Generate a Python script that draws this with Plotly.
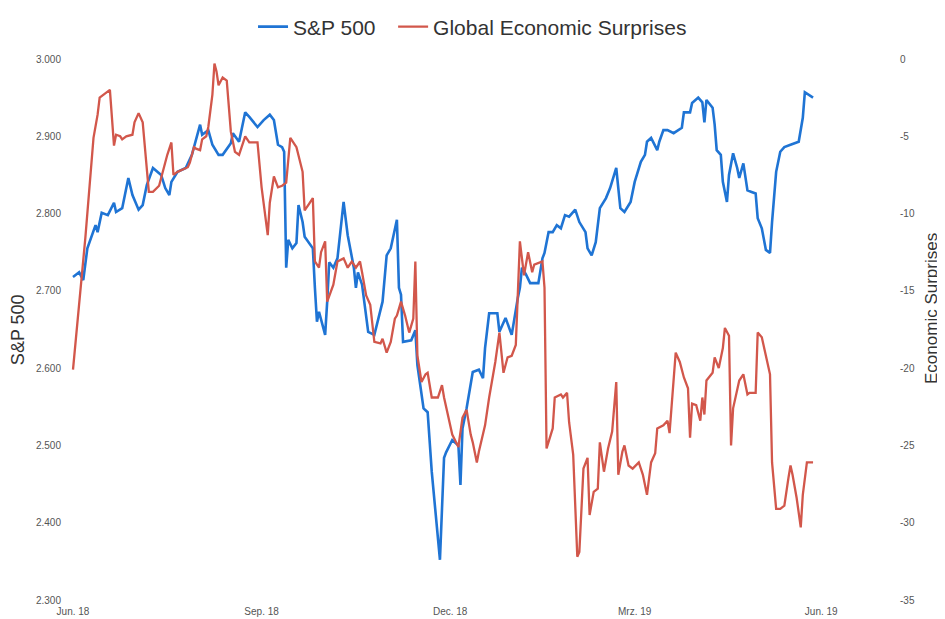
import plotly.graph_objects as go

# ---- S&P 500 (left axis) ----
sp_dates = ["2018-06-28","2018-07-01","2018-07-03","2018-07-05","2018-07-09","2018-07-10","2018-07-12","2018-07-15",
"2018-07-18","2018-07-19","2018-07-22","2018-07-25","2018-07-27","2018-07-30","2018-08-01","2018-08-03","2018-08-06",
"2018-08-10","2018-08-12","2018-08-14","2018-08-15","2018-08-18","2018-08-22","2018-08-25","2018-08-29","2018-08-30",
"2018-09-02","2018-09-04","2018-09-07","2018-09-09","2018-09-13","2018-09-14","2018-09-17","2018-09-20","2018-09-22",
"2018-09-26","2018-09-29","2018-10-02","2018-10-04","2018-10-06","2018-10-08","2018-10-09","2018-10-10","2018-10-11",
"2018-10-13","2018-10-15","2018-10-16","2018-10-18","2018-10-19","2018-10-23","2018-10-24","2018-10-25","2018-10-26",
"2018-10-29","2018-10-30","2018-10-31","2018-11-02","2018-11-04","2018-11-07","2018-11-09","2018-11-12","2018-11-13",
"2018-11-14","2018-11-16","2018-11-19","2018-11-22","2018-11-26","2018-11-28","2018-11-30","2018-12-03","2018-12-04",
"2018-12-05","2018-12-06","2018-12-10","2018-12-12","2018-12-13","2018-12-16","2018-12-18","2018-12-20","2018-12-22",
"2018-12-24","2018-12-26","2018-12-27","2018-12-30","2019-01-02","2019-01-03","2019-01-04","2019-01-06","2019-01-09",
"2019-01-12","2019-01-14","2019-01-15","2019-01-17","2019-01-21","2019-01-22","2019-01-25","2019-01-28","2019-01-31",
"2019-02-01","2019-02-02","2019-02-04","2019-02-06","2019-02-10","2019-02-12","2019-02-13","2019-02-15","2019-02-17",
"2019-02-19","2019-02-21","2019-02-23","2019-02-25","2019-02-28","2019-03-02","2019-03-05","2019-03-06","2019-03-08",
"2019-03-10","2019-03-12","2019-03-15","2019-03-17","2019-03-18","2019-03-20","2019-03-21","2019-03-22","2019-03-24",
"2019-03-27","2019-03-29","2019-04-01","2019-04-03","2019-04-04","2019-04-06","2019-04-09","2019-04-10","2019-04-12",
"2019-04-14","2019-04-17","2019-04-21","2019-04-22","2019-04-25","2019-04-26","2019-04-29","2019-05-01","2019-05-02",
"2019-05-03","2019-05-06","2019-05-07","2019-05-08","2019-05-10","2019-05-11","2019-05-13","2019-05-14","2019-05-16",
"2019-05-18","2019-05-19","2019-05-21","2019-05-23","2019-05-25","2019-05-27","2019-05-28","2019-05-30","2019-06-01",
"2019-06-03","2019-06-04","2019-06-06","2019-06-08","2019-06-10","2019-06-13","2019-06-15","2019-06-17","2019-06-19",
"2019-06-20","2019-06-24"]
sp_values = [2718,2724,2714,2755,2785,2776,2801,2798,
2814,2802,2807,2846,2824,2805,2811,2837,2859,
2850,2833,2824,2841,2854,2859,2876,2915,2902,
2908,2889,2876,2876,2891,2904,2893,2931,2925,
2912,2921,2928,2921,2889,2886,2880,2730,2766,
2755,2762,2811,2789,2770,2755,2704,2660,2673,
2643,2686,2737,2730,2742,2815,2772,2730,2704,
2724,2708,2647,2643,2686,2746,2755,2792,2704,
2695,2634,2636,2649,2604,2548,2543,2466,2410,
2352,2484,2491,2507,2500,2449,2522,2548,2595,
2598,2587,2626,2671,2671,2647,2665,2643,2691,
2704,2730,2721,2710,2710,2742,2749,2776,2776,
2785,2781,2798,2796,2805,2789,2776,2755,2746,
2763,2807,2820,2833,2841,2859,2833,2807,2802,
2815,2841,2867,2876,2893,2898,2882,2893,2908,
2908,2904,2911,2931,2931,2943,2950,2944,2918,
2947,2937,2915,2882,2876,2841,2815,2850,2878,
2859,2846,2865,2830,2828,2826,2794,2781,2753,
2749,2789,2854,2880,2886,2889,2891,2893,2924,
2957,2950]

# ---- Global Economic Surprises (right axis) ----
ges_dates = ["2018-06-28","2018-07-04","2018-07-08","2018-07-10","2018-07-11","2018-07-13","2018-07-15","2018-07-16",
"2018-07-18","2018-07-19","2018-07-21","2018-07-22","2018-07-24","2018-07-27","2018-07-28","2018-07-30","2018-08-01",
"2018-08-02","2018-08-04","2018-08-06","2018-08-08","2018-08-09","2018-08-12","2018-08-13","2018-08-15","2018-08-16",
"2018-08-18","2018-08-20","2018-08-23","2018-08-24","2018-08-26","2018-08-27","2018-08-29","2018-08-30","2018-09-01",
"2018-09-02","2018-09-04","2018-09-05","2018-09-06","2018-09-07","2018-09-09","2018-09-11","2018-09-13","2018-09-15",
"2018-09-17","2018-09-20","2018-09-22","2018-09-26","2018-09-28","2018-10-01","2018-10-02","2018-10-04","2018-10-06",
"2018-10-08","2018-10-10","2018-10-12","2018-10-15","2018-10-18","2018-10-19","2018-10-21","2018-10-23","2018-10-24",
"2018-10-26","2018-10-27","2018-10-29","2018-10-30","2018-11-02","2018-11-04","2018-11-07","2018-11-09","2018-11-11",
"2018-11-13","2018-11-15","2018-11-16","2018-11-18","2018-11-20","2018-11-22","2018-11-25","2018-11-26","2018-11-28",
"2018-11-30","2018-12-02","2018-12-03","2018-12-05","2018-12-07","2018-12-09","2018-12-11","2018-12-12","2018-12-13",
"2018-12-15","2018-12-17","2018-12-18","2018-12-20","2018-12-23","2018-12-25","2018-12-26","2018-12-28","2018-12-30",
"2019-01-02","2019-01-04","2019-01-06","2019-01-08","2019-01-09","2019-01-11","2019-01-12","2019-01-15","2019-01-17",
"2019-01-20","2019-01-22","2019-01-24","2019-01-26","2019-01-28","2019-01-30","2019-02-01","2019-02-03","2019-02-05",
"2019-02-07","2019-02-08","2019-02-12","2019-02-13","2019-02-14","2019-02-17","2019-02-18","2019-02-21","2019-02-22",
"2019-02-24","2019-02-25","2019-02-27","2019-03-01","2019-03-02","2019-03-04","2019-03-06","2019-03-07","2019-03-09",
"2019-03-11","2019-03-12","2019-03-14","2019-03-16","2019-03-18","2019-03-20","2019-03-21","2019-03-23","2019-03-24",
"2019-03-26","2019-03-28","2019-03-31","2019-04-02","2019-04-04","2019-04-06","2019-04-08","2019-04-09","2019-04-12",
"2019-04-14","2019-04-15","2019-04-18","2019-04-20","2019-04-22","2019-04-24","2019-04-25","2019-04-26","2019-04-28",
"2019-04-30","2019-05-01","2019-05-02","2019-05-03","2019-05-06","2019-05-07","2019-05-09","2019-05-11","2019-05-12",
"2019-05-14","2019-05-15","2019-05-16","2019-05-18","2019-05-19","2019-05-21","2019-05-23","2019-05-24","2019-05-27",
"2019-05-28","2019-05-30","2019-06-01","2019-06-03","2019-06-04","2019-06-06","2019-06-08","2019-06-10","2019-06-12",
"2019-06-13","2019-06-14","2019-06-16","2019-06-18","2019-06-19","2019-06-21","2019-06-24"]
ges_values = [-20.1,-11.6,-5.1,-3.6,-2.5,-2.3,-2.1,-2.0,
-5.6,-4.9,-5.0,-5.2,-5.0,-4.9,-4.1,-3.5,-4.1,
-5.6,-8.6,-8.6,-8.3,-8.2,-6.7,-6.2,-5.4,-7.5,
-7.3,-7.2,-7.0,-6.7,-5.7,-5.8,-5.9,-5.2,-5.0,
-4.4,-2.3,-0.3,-0.8,-1.7,-1.2,-1.4,-4.7,-6.0,
-6.2,-5.0,-5.4,-5.4,-8.3,-11.4,-9.3,-7.6,-8.3,
-8.2,-8.0,-5.1,-5.7,-7.3,-9.8,-9.4,-9.0,-13.1,
-13.5,-12.5,-11.8,-15.7,-14.6,-13.1,-12.9,-13.5,-13.1,
-13.5,-13.1,-13.8,-15.3,-15.9,-18.3,-18.4,-18.1,-19.0,
-18.3,-16.8,-16.6,-15.7,-16.6,-17.7,-16.8,-13.1,-19.2,
-20.9,-20.4,-20.3,-21.9,-21.9,-21.1,-21.9,-23.2,-24.3,
-25.1,-23.2,-22.7,-24.3,-24.8,-26.1,-25.4,-23.7,-21.9,
-19.6,-17.7,-20.3,-19.3,-19.2,-18.5,-11.8,-14.0,-12.5,
-13.8,-13.3,-13.1,-14.8,-25.2,-23.9,-21.9,-21.7,-21.9,
-21.6,-23.5,-25.6,-32.2,-31.9,-26.5,-25.8,-29.5,-28.0,
-27.8,-24.8,-26.7,-25.2,-24.1,-20.9,-26.9,-25.4,-25.0,
-26.3,-26.5,-26.1,-26.9,-28.2,-26.1,-25.5,-23.9,-23.7,
-23.4,-24.2,-19.0,-19.6,-20.6,-21.3,-24.5,-22.3,-22.4,
-23.4,-21.9,-23.0,-20.8,-20.3,-19.3,-20.0,-18.7,-17.4,
-17.9,-25.0,-22.6,-21.5,-20.8,-20.4,-21.7,-21.6,-21.6,
-17.7,-18.0,-19.2,-20.4,-26.1,-29.1,-29.1,-28.9,-27.1,
-26.3,-26.9,-28.4,-30.3,-28.2,-26.1,-26.1]

x_tick_dates = ["2018-06-28", "2018-09-28", "2018-12-29", "2019-03-29", "2019-06-28"]
x_tick_labels = ["Jun. 18", "Sep. 18", "Dec. 18", "Mrz. 19", "Jun. 19"]
left_ticks = [2300, 2400, 2500, 2600, 2700, 2800, 2900, 3000]
right_ticks = [0, -5, -10, -15, -20, -25, -30, -35]

BLUE = "#1f74d4"
RED = "#d2574b"
FONT = "Liberation Sans, Arial, sans-serif"
TICK_COLOR = "#555555"

fig = go.Figure()
fig.add_trace(go.Scatter(x=sp_dates, y=sp_values, name="S&P 500", mode="lines",
                         line=dict(color=BLUE, width=2.6), yaxis="y", legend="legend"))
fig.add_trace(go.Scatter(x=ges_dates, y=ges_values, name="Global Economic Surprises", mode="lines",
                         line=dict(color=RED, width=2.3), yaxis="y2", legend="legend2"))

legend_common = dict(orientation="h", xref="container", yref="container",
                     xanchor="left", y=0.9689, yanchor="middle",
                     font=dict(size=21, color="#333333"), itemwidth=30,
                     bgcolor="rgba(0,0,0,0)")

# page body has an 8px default margin, so the figure is 16px smaller than the window
fig.update_layout(
    width=937, height=611,
    margin=dict(l=60, r=52, t=51, b=19),
    paper_bgcolor="white", plot_bgcolor="white",
    separators=",.",
    font=dict(family=FONT, color="#333333"),
    showlegend=True,
    legend=dict(x=0.2615, **legend_common),
    legend2=dict(x=0.411, **legend_common),
    xaxis=dict(type="date", range=["2018-06-25 13:26", "2019-08-02 00:00"],
               tickmode="array", tickvals=x_tick_dates, ticktext=x_tick_labels,
               showgrid=False, zeroline=False, showline=False, ticks="",
               ticklabelstandoff=4,
               tickfont=dict(size=10, color=TICK_COLOR), automargin=False),
    yaxis=dict(range=[2300, 3000], tickmode="array", tickvals=left_ticks,
               tickformat=",d", showgrid=False, zeroline=False, showline=False, ticks="",
               ticklabelstandoff=6,
               tickfont=dict(size=10, color=TICK_COLOR), automargin=False),
    yaxis2=dict(range=[-35, 0], overlaying="y", side="right", tickmode="array",
                tickvals=right_ticks, ticktext=[str(v) for v in right_ticks],
                showgrid=False, zeroline=False, showline=False, ticks="",
                ticklabelstandoff=6,
                tickfont=dict(size=10, color=TICK_COLOR), automargin=False),
    annotations=[
        dict(text="S&P 500", textangle=-90, xref="paper", yref="paper",
             x=-0.0605, y=0.499, xanchor="center", yanchor="middle", showarrow=False,
             font=dict(size=18, color="#333333")),
        dict(text="Economic Surprises", textangle=-90, xref="paper", yref="paper",
             x=1.0473, y=0.538, xanchor="center", yanchor="middle", showarrow=False,
             font=dict(size=17, color="#333333")),
    ],
)

fig.write_html("out.html")
